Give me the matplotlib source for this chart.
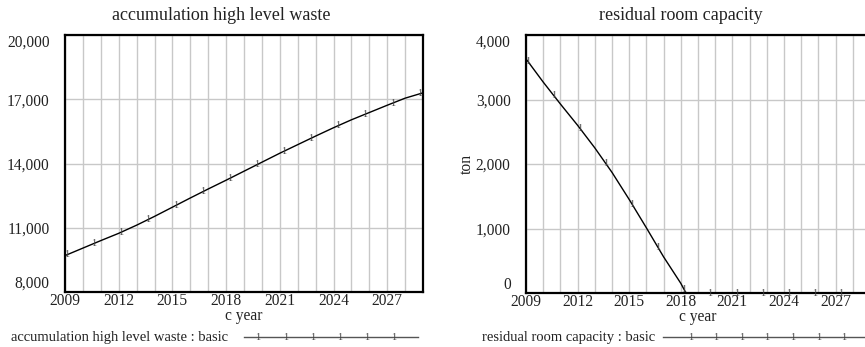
import numpy as np
import matplotlib
matplotlib.use("Agg")
from matplotlib import pyplot as plt
from matplotlib.lines import Line2D

# accumulation high level waste (basic run)
waste_years = [2009, 2010, 2011, 2012, 2013, 2014, 2015, 2016, 2017, 2018, 2019,
               2020, 2021, 2022, 2023, 2024, 2025, 2026, 2027, 2028, 2029]
waste_vals = [9700, 10050, 10400, 10740, 11120, 11530, 11960, 12390, 12810, 13220, 13640,
              14060, 14480, 14880, 15280, 15670, 16040, 16380, 16720, 17050, 17300]

# residual room capacity (basic run)
room_years = [2009, 2010, 2011, 2012, 2013, 2014, 2015, 2016, 2017, 2018, 2018.3,
              2019, 2020, 2021, 2022, 2023, 2024, 2025, 2026, 2027, 2028, 2029]
room_vals = [3630, 3270, 2930, 2600, 2250, 1870, 1450, 1010, 560, 150, 0,
             0, 0, 0, 0, 0, 0, 0, 0, 0, 0, 0]

xticks = [2009, 2012, 2015, 2018, 2021, 2024, 2027]
serif = ["Liberation Serif", "DejaVu Serif"]
plt.rcParams['font.family'] = serif

fig = plt.figure(figsize=(8.65, 3.47), dpi=100)
W, H = 865.0, 347.0
FS = 11.2


def panel(rect, years, vals, ylim, yticks, title, title_x, legend, leg_text_x, leg_line, marks):
    ax = fig.add_axes(rect)
    ax.set_xlim(2009, 2029)
    ax.set_ylim(*ylim)
    ax.set_xticks(np.arange(2009, 2030, 1), minor=True)
    ax.set_xticks(xticks)
    ax.set_yticks(yticks)
    ax.set_yticklabels(["{:,}".format(v) for v in yticks])
    ax.grid(True, which='both', axis='x', color='#c8c8c8', lw=1)
    ax.grid(True, which='major', axis='y', color='#c8c8c8', lw=1)
    ax.tick_params(which='both', length=0, labelsize=FS, pad=1, colors='#222222')
    ax.tick_params(axis='y', pad=11)
    # vensim squeezes the end labels inside the plot area
    ylabs = ax.get_yticklabels()
    ylabs[0].set_va('bottom')
    ylabs[-1].set_va('top')
    for s in ax.spines.values():
        s.set_linewidth(1.6)
    ax.plot(years, vals, color='black', lw=1, clip_on=False)
    mt = np.linspace(2009.1, 2028.8, 14)
    for t in mt:
        ax.text(t, np.interp(t, years, vals), "1", fontsize=7.5, color='#444444',
                ha='center', va='center')
    ax.set_xlabel("c year", fontsize=FS, labelpad=-1, color='#222222')
    fig.text(title_x / W, 1 - 16 / H, title, fontsize=13, ha='center', va='center', color='#222222')
    # legend strip
    fig.text(leg_text_x / W, 1 - 337 / H, legend, fontsize=10.5, ha='left', va='center', color='#222222')
    x0, x1 = leg_line
    fig.add_artist(Line2D([x0 / W, x1 / W], [1 - 337 / H] * 2, color='#555555', lw=1))
    for m in marks:
        fig.text(m / W, 1 - 337 / H, "1", fontsize=7.5, color='#444444', ha='center', va='center')
    return ax


ax1 = panel([65 / W, 55 / H, 358 / W, 257 / H], waste_years, waste_vals, (8000, 20000),
            [8000, 11000, 14000, 17000, 20000], "accumulation high level waste", 221,
            "accumulation high level waste : basic", 11, (244, 418),
            [258, 286, 313, 340, 367, 394])

ax2 = panel([526 / W, 54 / H, 344 / W, 258 / H], room_years, room_vals, (0, 4000),
            [0, 1000, 2000, 3000, 4000], "residual room capacity", 681,
            "residual room capacity : basic", 482, (663, 870),
            [691, 716, 742, 767, 793, 819, 844])
ax2.set_ylabel("ton", fontsize=FS, labelpad=1, color='#222222')

fig.savefig("out.png", dpi=100)
